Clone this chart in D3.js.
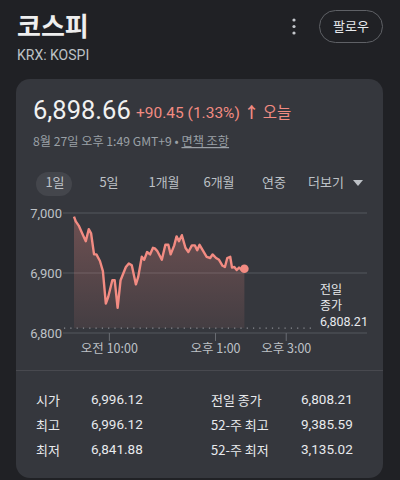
<!DOCTYPE html>
<html><head><meta charset="utf-8">
<script src="https://cdn.jsdelivr.net/npm/d3@7"></script>
<style>
html,body{margin:0;padding:0;background:#202125;}
svg{display:block;}
text{font-family:Roboto,"Noto Sans CJK KR",sans-serif;}
</style></head>
<body>
<svg id="c" width="400" height="480"></svg>
<script>
// ---- data ----
const times = ["09:00","09:03","09:08","09:14","09:20","09:25","09:29","09:34","09:38","09:44","09:49","09:54","09:58","10:05","10:09","10:14","10:19","10:28","10:33","10:38","10:45","10:49","10:55","10:59","11:04","11:09","11:14","11:17","11:21","11:29","11:35","11:40","11:44","11:50","11:54","11:58","12:03","12:09","12:14","12:20","12:25","12:29","12:33","12:39","12:45","12:51","12:55","13:01","13:06","13:12","13:16","13:20","13:25","13:28","13:32","13:36","13:40","13:45","13:49"];
const values = [6994,6986,6979,6966,6953,6973,6966,6931,6931,6920,6903,6849,6860,6888,6888,6842,6888,6910,6916,6913,6881,6894,6927,6922,6935,6931,6942,6941,6937,6922,6947,6947,6931,6946,6961,6953,6963,6942,6935,6946,6946,6938,6947,6937,6927,6925,6931,6925,6922,6912,6910,6925,6927,6909,6910,6905,6909,6905,6907];
const yTicks = [6800, 6900, 7000];
const xTickTimes = ["10:00", "13:00", "15:00"];
const xTickLabels = ["오전 10:00", "오후 1:00", "오후 3:00"];
const prevClose = 6808.21;
const ranges = ["1일", "5일", "1개월", "6개월", "연중", "더보기"];
const statLabelsL = ["시가", "최고", "최저"];
const statValuesL = ["6,996.12", "6,996.12", "6,841.88"];
const statLabelsR = ["전일 종가", "52-주 최고", "52-주 최저"];
const statValuesR = ["6,808.21", "9,385.59", "3,135.02"];

const svg = d3.select("#c");
const parse = d3.timeParse("%H:%M");
const data = times.map((t, i) => ({t: parse(t), v: values[i]}));

// background & card
svg.append("rect").attr("width", 400).attr("height", 480).attr("fill", "#202125");
svg.append("rect").attr("x", 16).attr("y", 79).attr("width", 367).attr("height", 399).attr("rx", 14).attr("fill", "#35373d");

// header
svg.append("text").attr("x", 17).attr("y", 36).attr("fill", "#eeeeee").attr("font-size", 26).attr("font-weight", 700)
  .style("font-family", "'Noto Sans CJK KR'").text("코스피");
svg.append("text").attr("x", 17).attr("y", 60).attr("fill", "#bdc1c6").attr("font-size", 14).text("KRX: KOSPI");
[20, 26.5, 33].forEach(cy => svg.append("circle").attr("cx", 294).attr("cy", cy).attr("r", 1.6).attr("fill", "#c4c7cc"));
svg.append("rect").attr("x", 319.5).attr("y", 10.5).attr("width", 63).attr("height", 32).attr("rx", 16)
  .attr("fill", "none").attr("stroke", "#5f6166").attr("stroke-width", 1);
svg.append("text").attr("x", 351).attr("y", 31).attr("text-anchor", "middle").attr("fill", "#e8eaed").attr("font-size", 13)
  .style("font-family", "'Noto Sans CJK KR'").text("팔로우");

// price line
svg.append("text").attr("x", 33).attr("y", 119).attr("fill", "#f1f1f1").attr("font-size", 25.5).text("6,898.66");
const chg = svg.append("text").attr("x", 136).attr("y", 118).attr("fill", "#f28b82").attr("font-size", 15.5);
chg.append("tspan").text("+90.45 (1.33%) ");
chg.append("tspan").attr("font-weight", 700).text("\u2191");
chg.append("tspan").style("font-family", "'Noto Sans CJK KR'").text(" 오늘");
const sub = svg.append("text").attr("x", 33).attr("y", 146).attr("fill", "#9aa0a6").attr("font-size", 12.2)
  .style("font-family", "'Noto Sans CJK KR'");
sub.append("tspan").text("8월 27일 오후 1:49 GMT+9 • ");
sub.append("tspan").attr("text-decoration", "underline").text("면책 조항");

// range tabs
const tabX = [55, 109, 164, 219, 274, 326];
svg.append("rect").attr("x", 36).attr("y", 172).attr("width", 36).attr("height", 24).attr("rx", 12).attr("fill", "#44464c");
ranges.forEach((r, i) => {
  svg.append("text").attr("x", tabX[i]).attr("y", 187).attr("text-anchor", "middle").attr("fill", "#bdc1c6")
    .attr("font-size", 13).style("font-family", "'Noto Sans CJK KR'").text(r);
});
svg.append("path").attr("d", "M353,180 L363,180 L358,186 Z").attr("fill", "#bdc1c6");

// scales
const x = d3.scaleTime().domain([parse("09:00"), parse("17:17")]).range([74, 367]);
const y = d3.scaleLinear().domain([6800, 7000]).range([333, 213]);

// gridlines + y labels
yTicks.forEach(t => {
  svg.append("line").attr("x1", 63).attr("x2", 367).attr("y1", y(t)).attr("y2", y(t))
    .attr("stroke", "#55585e").attr("stroke-width", 1);
  svg.append("text").attr("x", 62).attr("y", y(t) + 4.5).attr("text-anchor", "end").attr("fill", "#bdc1c6")
    .attr("font-size", 13).text(d3.format(",")(t));
});

// x ticks
xTickTimes.forEach((t, i) => {
  const xx = x(parse(t));
  svg.append("line").attr("x1", xx).attr("x2", xx).attr("y1", 333).attr("y2", 341).attr("stroke", "#6a6d73");
  svg.append("text").attr("x", xx).attr("y", 353).attr("text-anchor", "middle").attr("fill", "#bdc1c6")
    .attr("font-size", 12.5).style("font-family", "'Noto Sans CJK KR'").text(xTickLabels[i]);
});

// area gradient
const defs = svg.append("defs");
const g = defs.append("linearGradient").attr("id", "ag").attr("x1", 0).attr("x2", 0).attr("y1", 0).attr("y2", 1);
g.append("stop").attr("offset", "0%").attr("stop-color", "#f28b82").attr("stop-opacity", 0.3);
g.append("stop").attr("offset", "100%").attr("stop-color", "#f28b82").attr("stop-opacity", 0.08);

svg.append("path").datum(data)
  .attr("d", d3.area().x(d => x(d.t)).y0(y(prevClose)).y1(d => y(d.v)))
  .attr("fill", "url(#ag)");

// previous close dotted line
svg.append("line").attr("x1", 64).attr("x2", 314).attr("y1", y(prevClose)).attr("y2", y(prevClose))
  .attr("stroke", "#8a8d93").attr("stroke-width", 1.2).attr("stroke-dasharray", "1.2,5.1");

svg.append("path").datum(data)
  .attr("d", d3.line().x(d => x(d.t)).y(d => y(d.v)))
  .attr("fill", "none").attr("stroke", "#f28b82").attr("stroke-width", 2.4).attr("stroke-linejoin", "round");

const last = data[data.length - 1];
svg.append("circle").attr("cx", x(last.t)).attr("cy", y(last.v)).attr("r", 4.3).attr("fill", "#f28b82");

// previous close label
["전일", "종가"].forEach((s, i) => {
  svg.append("text").attr("x", 320).attr("y", 294 + i * 16).attr("fill", "#e8eaed").attr("font-size", 12)
    .style("font-family", "'Noto Sans CJK KR'").text(s);
});
svg.append("text").attr("x", 320).attr("y", 326).attr("fill", "#e8eaed").attr("font-size", 12.5).text(d3.format(",.2f")(prevClose));

// divider
svg.append("line").attr("x1", 16).attr("x2", 383).attr("y1", 370.5).attr("y2", 370.5).attr("stroke", "#48494f");

// stats
const rowY = [405, 430, 455];
statLabelsL.forEach((s, i) => {
  svg.append("text").attr("x", 36).attr("y", rowY[i]).attr("fill", "#e8eaed").attr("font-size", 13)
    .style("font-family", "'Noto Sans CJK KR'").text(s);
  svg.append("text").attr("x", 91).attr("y", rowY[i] - 1).attr("fill", "#e8eaed").attr("font-size", 13.5).text(statValuesL[i]);
  svg.append("text").attr("x", 211).attr("y", rowY[i]).attr("fill", "#e8eaed").attr("font-size", 13)
    .style("font-family", "'Noto Sans CJK KR'").text(statLabelsR[i]);
  svg.append("text").attr("x", 301).attr("y", rowY[i] - 1).attr("fill", "#e8eaed").attr("font-size", 13.5).text(statValuesR[i]);
});
</script>
</body></html>
